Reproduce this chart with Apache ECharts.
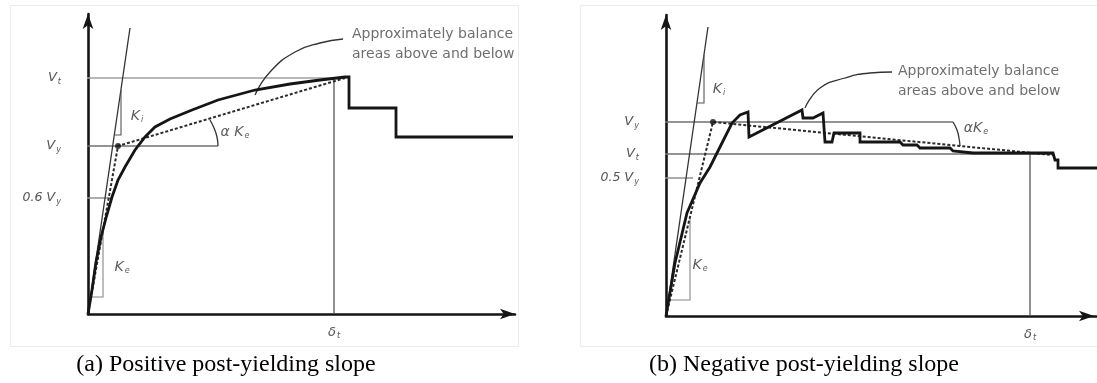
<!DOCTYPE html>
<html>
<head>
<meta charset="utf-8">
<script src="https://cdn.jsdelivr.net/npm/echarts@6/dist/echarts.min.js"></script>
<style>
  html, body { margin: 0; padding: 0; background: #fff; }
  #chart { width: 1097px; height: 383px; }
</style>
</head>
<body>
<div id="chart"></div>
<script>
// ---------- Panel (a): positive post-yielding slope ----------
// pushover response (drift, base shear) in plot units
const curveA = [[0,0],[4,24],[8,52],[13,77],[18,96],[24,117],[30,134],[37,147],[47,164],[57,177],[67,187],[82,195],[104,204],[130,214],[167,224],[202,230],[232,234],[257,237],[261,237],[261,206],[308,206],[308,177],[425,177]];
// idealised bilinear fit: origin -> yield point -> target point
const bilinearA = [[0,0],[30,168],[257,236]];
const yieldPointA = [[30,168]];
const elasticA = [[0,0],[42,286]];            // K_i
const kiTriangleA = [[26,179],[33,179],[33,224]];
const keTriangleA = [[3,17],[15,17],[15,84]];
const alphaArcA = [[130,168],[129,177],[126,186],[122,194]];
const leaderA = [[167,219],[182,242],[207,262],[232,271],[255,275]];
const vtA = 236, vyA = 168, v06A = 116, deltaTA = 246;
const refEndA = { vt: 257, vy: 130, v06: 24 };

// ---------- Panel (b): negative post-yielding slope ----------
const curveB = [[0,0],[9,53],[21,103],[34,133],[44,149],[56,173],[66,193],[74,201],[82,204],[83,179],[136,206],[137,198],[147,198],[157,203],[159,174],[166,174],[168,183],[194,183],[194,174],[234,174],[237,171],[251,171],[254,168],[284,168],[287,165],[307,163],[387,163],[389,156],[392,156],[392,148],[431,148]];
const bilinearB = [[0,0],[47,194],[387,161]];
const yieldPointB = [[47,194]];
const elasticB = [[0,0],[42,289]];
const kiTriangleB = [[31,213],[38,213],[38,261]];
const keTriangleB = [[4,16],[24,16],[24,99]];
const alphaArcB = [[287,194],[291,186],[293,178],[294,170]];
const leaderB = [[139,208],[154,228],[179,238],[204,243],[226,244]];
const vyB = 194, vtB = 162, v05B = 138, deltaTB = 364;
const refEndB = { vy: 287, vt: 387, v05: 27 };

const stubA = -13, stubB = -24;   // reference lines start just left of the shear axis

// anchors of the "balance areas" notes
const noteAtA = [259, 270], noteAtB = [227, 235];

const INK = '#151515';
const GREY = '#555';
const SANS = 'DejaVu Sans';

const rich = {
  i: { fontFamily: SANS, fontStyle: 'italic', fontSize: 13, color: GREY },
  n: { fontFamily: SANS, fontStyle: 'italic', fontSize: 12.5, color: GREY },
  s: { fontFamily: SANS, fontStyle: 'italic', fontSize: 8, color: GREY, padding: [7, 0, 0, 1] },
  k: { fontFamily: SANS, fontStyle: 'italic', fontSize: 14, color: '#333' },
  ks: { fontFamily: SANS, fontStyle: 'italic', fontSize: 8, color: '#333', padding: [8, 0, 0, 1] }
};

function path(g, data, color, width, type, smooth, z) {
  return {
    type: 'line', xAxisIndex: g, yAxisIndex: g, data: data,
    showSymbol: false, symbol: 'none', clip: false, silent: true,
    smooth: smooth || false, z: z || 2,
    lineStyle: { color: color, width: width, type: type || 'solid', cap: 'butt', join: 'miter' }
  };
}
function hline(g, y, x0, x1, color, width) {
  return path(g, [[x0, y], [x1, y]], color, width);
}
function note(g, pos, text, position, extraRich) {
  return {
    type: 'scatter', xAxisIndex: g, yAxisIndex: g, silent: true, clip: false,
    symbolSize: 0, data: [pos], z: 5,
    label: {
      show: true, position: position || 'inside', formatter: text,
      rich: Object.assign({}, rich, extraRich || {})
    }
  };
}
const noteRich = {
  t: { fontFamily: SANS, fontSize: 14, color: '#4a4a4a', lineHeight: 20 }
};
const noteText = '{t|Approximately balance}\n{t|areas above and below}';

function yAxisFor(max, ticks, names) {
  return {
    type: 'value', min: 0, max: max, splitLine: { show: false },
    axisTick: { show: false },
    axisLine: { show: true, symbol: ['none', 'arrow'], symbolSize: [8, 15],
      lineStyle: { color: INK, width: 2.6 } },
    axisLabel: { show: true, customValues: ticks, margin: 27, rich: rich,
      formatter: function (v) { return names[ticks.indexOf(v)] || ''; } }
  };
}
function xAxisFor(max, tick, offset) {
  return {
    type: 'value', min: 0, max: max, splitLine: { show: false },
    axisTick: { show: false },
    axisLine: { show: true, symbol: ['none', 'arrow'], symbolSize: [8, 15], symbolOffset: [0, offset],
      lineStyle: { color: INK, width: 2.6 } },
    axisLabel: { show: true, customValues: [tick], margin: 11, rich: rich,
      formatter: function () { return '{i|δ}{s|t}'; } }
  };
}

const chart = echarts.init(document.getElementById('chart'), null, { renderer: 'canvas' });
chart.setOption({
  animation: false,
  backgroundColor: '#fff',
  grid: [
    { left: 88, top: 14, width: 427, height: 300, outerBoundsMode: 'none' },
    { left: 666, top: 15, width: 431, height: 301, outerBoundsMode: 'none' }
  ],
  xAxis: [
    Object.assign(xAxisFor(427, deltaTA, 0), { gridIndex: 0 }),
    Object.assign(xAxisFor(431, deltaTB, -3), { gridIndex: 1 })
  ],
  yAxis: [
    Object.assign(yAxisFor(300, [v06A, vyA, vtA], ['{n|0.6 }{i|V}{s|y}', '{i|V}{s|y}', '{i|V}{s|t}']), { gridIndex: 0 }),
    Object.assign(yAxisFor(301, [v05B, vtB, vyB], ['{n|0.5 }{i|V}{s|y}', '{i|V}{s|t}', '{i|V}{s|y}']), { gridIndex: 1 })
  ],
  series: [
    // panel (a)
    hline(0, vtA, stubA, refEndA.vt, '#a0a0a0', 1.6),
    hline(0, vyA, stubA, refEndA.vy, '#707070', 1.4),
    hline(0, v06A, stubA, refEndA.v06, '#909090', 1.4),
    path(0, [[deltaTA, 0], [deltaTA, vtA]], '#555', 1.3),
    path(0, elasticA, '#333', 1.3),
    path(0, kiTriangleA, '#555', 1.1),
    path(0, keTriangleA, '#888', 1.1),
    path(0, alphaArcA, '#333', 1.3, 'solid', true),
    path(0, leaderA, '#333', 1.3, 'solid', true),
    path(0, bilinearA, '#2a2a2a', 2, [3, 2], false, 3),
    path(0, curveA, INK, 2.8, 'solid', false, 4),
    { type: 'scatter', xAxisIndex: 0, yAxisIndex: 0, data: yieldPointA, symbolSize: 6,
      itemStyle: { color: INK }, silent: true, z: 5 },
    note(0, [49, 198], '{k|K}{ks|i}'),
    note(0, [34, 47], '{k|K}{ks|e}'),
    note(0, [147, 182], '{k|α }{k|K}{ks|e}'),
    note(0, noteAtA, noteText, 'right', noteRich),
    // panel (b)
    hline(1, vyB, stubB, refEndB.vy, '#707070', 1.4),
    hline(1, vtB, stubB, refEndB.vt, '#707070', 1.4),
    hline(1, v05B, stubB, refEndB.v05, '#909090', 1.4),
    path(1, [[deltaTB, 0], [deltaTB, vtB]], '#555', 1.3),
    path(1, elasticB, '#333', 1.3),
    path(1, kiTriangleB, '#555', 1.1),
    path(1, keTriangleB, '#888', 1.1),
    path(1, alphaArcB, '#333', 1.3, 'solid', true),
    path(1, leaderB, '#333', 1.3, 'solid', true),
    path(1, bilinearB, '#2a2a2a', 2, [3, 2], false, 3),
    path(1, curveB, INK, 2.8, 'solid', false, 4),
    { type: 'scatter', xAxisIndex: 1, yAxisIndex: 1, data: yieldPointB, symbolSize: 6,
      itemStyle: { color: INK }, silent: true, z: 5 },
    note(1, [53, 227], '{k|K}{ks|i}'),
    note(1, [34, 51], '{k|K}{ks|e}'),
    note(1, [310, 188], '{k|α}{k|K}{ks|e}'),
    note(1, noteAtB, noteText, 'right', noteRich)
  ],
  graphic: [
    { type: 'rect', shape: { x: 10.5, y: 5.5, width: 508, height: 341 }, silent: true,
      style: { fill: 'none', stroke: '#ececec', lineWidth: 1 } },
    { type: 'rect', shape: { x: 580.5, y: 5.5, width: 520, height: 341 }, silent: true,
      style: { fill: 'none', stroke: '#ececec', lineWidth: 1 } },
    { type: 'text', x: 226, y: 365, silent: true,
      style: { text: '(a) Positive post-yielding slope', fontFamily: 'Liberation Serif',
        fontSize: 24, fill: '#000', textAlign: 'center', textVerticalAlign: 'middle' } },
    { type: 'text', x: 804, y: 365, silent: true,
      style: { text: '(b) Negative post-yielding slope', fontFamily: 'Liberation Serif',
        fontSize: 24, fill: '#000', textAlign: 'center', textVerticalAlign: 'middle' } }
  ]
});
</script>
</body>
</html>
